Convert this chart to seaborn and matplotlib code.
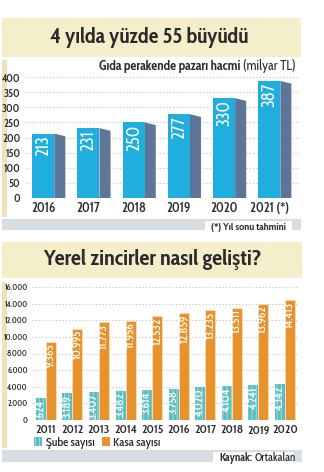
import os
import matplotlib
matplotlib.use("Agg")
import matplotlib.pyplot as plt
import matplotlib.font_manager as fm
from matplotlib.font_manager import FontProperties
from matplotlib.patches import Rectangle, Polygon, Patch
import seaborn as sns
import pandas as pd

# ---------------- data ----------------
years_top = ["2016", "2017", "2018", "2019", "2020", "2021 (*)"]
market_size = [213, 231, 250, 277, 330, 387]

years_bot = ["2011", "2012", "2013", "2014", "2015", "2016", "2017", "2018", "2019", "2020"]
sube = [2624, 3189, 3407, 3482, 3614, 3758, 4020, 4104, 4241, 4342]
kasa = [9365, 10995, 11773, 11956, 12532, 12859, 13235, 13511, 13962, 14413]

top_title = "4 yılda yüzde 55 büyüdü"
top_sub_bold = "Gıda perakende pazarı hacmi"
top_sub_reg = "(milyar TL)"
top_note = "(*) Yıl sonu tahmini"
bot_title = "Yerel zincirler nasıl gelişti?"
series_names = ["Şube sayısı", "Kasa sayısı"]
source_bold = "Kaynak:"
source_reg = "Ortakalan"

# ---------------- fonts ----------------
sns.set_theme(style="white")
plt.rcParams["font.family"] = ["DejaVu Sans"]
FILES = {os.path.basename(f.fname): f.fname for f in fm.fontManager.ttflist}

def font_file(cands):
    for c in cands:
        if c in FILES:
            return FILES[c]
    return None

f_bold = font_file(["CabinCondensed-Bold.ttf", "AsapCondensed-Bold.ttf", "DejaVuSansCondensed-Bold.ttf"])
f_semi = font_file(["CabinCondensed-SemiBold.ttf", "AsapCondensed-SemiBold.ttf", "DejaVuSansCondensed-Bold.ttf"])
f_med = font_file(["CabinCondensed-Medium.ttf", "AsapCondensed-Medium.ttf", "DejaVuSansCondensed.ttf"])
f_reg = font_file(["CabinCondensed-Regular.ttf", "AsapCondensed-Regular.ttf", "DejaVuSansCondensed.ttf"])

def FP(path, size, weight="normal"):
    if path:
        return FontProperties(fname=path, size=size)
    return FontProperties(family=["DejaVu Sans"], weight=weight, size=size * 0.8)

FB = lambda s: FP(f_bold, s, "bold")
FS = lambda s: FP(f_semi, s, "bold")
FM = lambda s: FP(f_med, s)
FR = lambda s: FP(f_reg, s)

TXT = "#2b2b2b"
W, H = 324, 472
fig = plt.figure(figsize=(W / 100, H / 100), dpi=100)
fig.patch.set_facecolor("white")

def px_axes(x0, y0, x1, y1):
    return fig.add_axes([x0 / W, 1 - y1 / H, (x1 - x0) / W, (y1 - y0) / H])

def fig_rect(x0, y0, x1, y1, color):
    fig.patches.append(Rectangle((x0 / W, 1 - y1 / H), (x1 - x0) / W, (y1 - y0) / H,
                                 transform=fig.transFigure, facecolor=color, edgecolor="none", zorder=-1))

def fig_text(x, y, s, **kw):
    return fig.text(x / W, 1 - y / H, s, **kw)

def thousands(v):
    return f"{v:,}".replace(",", ".")

# ---------------- decorations ----------------
BOX = "#f5eecb"
STRIPE = "#efe2b8"
BAND = "#d6dee4"
fig_rect(2, 18, 301, 57, BOX)
fig_rect(2, 60, 7, 217, STRIPE)
fig_rect(2, 219, 301, 230, BAND)
fig_rect(205, 221, 292, 234, "white")
fig_text(149, 37, top_title, ha="center", va="center", fontproperties=FB(15.5), color=TXT)
fig_text(248, 227.5, top_note, ha="center", va="center", fontproperties=FB(7.5), color=TXT)

fig_rect(2, 242, 302, 278, BOX)
fig_rect(2, 282, 7, 448, STRIPE)
fig_rect(2, 450, 302, 462, BAND)
fig_rect(213, 452, 293, 465, "white")
fig_text(152, 260, bot_title, ha="center", va="center", fontproperties=FB(16), color=TXT)
t_src_b = fig_text(219, 458, source_bold, ha="left", va="center", fontproperties=FB(8), color=TXT)

# ---------------- top chart ----------------
ax1 = px_axes(26, 77, 300, 198)
df_top = pd.DataFrame({"year": years_top, "value": market_size})
FRONT = "#1faedd"
SIDE = "#5d7698"
sns.barplot(data=df_top, x="year", y="value", ax=ax1, color=FRONT, width=0.49,
            saturation=1, edgecolor="none", zorder=3)
ax1.set_xlim(-0.38, 5.68)
ax1.set_ylim(0, 400)
dx, dy = 0.245, 9.0
for p, v in zip(ax1.patches, market_size):
    x1 = p.get_x() + p.get_width()
    h = p.get_height()
    ax1.add_patch(Polygon([(x1, h), (x1 + dx, h - dy), (x1 + dx, 0), (x1, 0)],
                          closed=True, facecolor=SIDE, edgecolor="none", zorder=2))
    ax1.text(p.get_x() + p.get_width() / 2, h - 7, str(v), rotation=90, ha="center", va="top",
             color="white", fontproperties=FR(12.5), zorder=4)
ax1.set_yticks(range(0, 401, 50))
ax1.yaxis.grid(True, linestyle=(0, (1, 2)), color="#b9c3cc", linewidth=0.8, zorder=0)
ax1.set_axisbelow(True)
for s in ax1.spines.values():
    s.set_visible(False)
ax1.tick_params(axis="y", length=0, labelcolor=TXT, pad=4)
ax1.tick_params(axis="x", length=0, labelcolor=TXT, pad=3)
for lab in ax1.get_yticklabels():
    lab.set_fontproperties(FS(8))
for lab in ax1.get_xticklabels():
    lab.set_fontproperties(FS(9.5))
ax1.set_xlabel("")
ax1.set_ylabel("")
ax1.set_facecolor("none")
t_sub_reg = ax1.text(0.985, 1.09, top_sub_reg, transform=ax1.transAxes, ha="right", va="center",
                     fontproperties=FR(9.5), color=TXT)

# ---------------- bottom chart ----------------
ax2 = px_axes(32, 287, 297, 420)
df_bot = pd.DataFrame({
    "year": years_bot * 2,
    "value": sube + kasa,
    "series": [series_names[0]] * len(years_bot) + [series_names[1]] * len(years_bot),
})
TEAL = "#5cbdc0"
ORANGE = "#e8922c"
plt.rcParams["hatch.linewidth"] = 0.6
sns.barplot(data=df_bot, x="year", y="value", hue="series", ax=ax2, width=0.75,
            palette=[TEAL, ORANGE], saturation=1, edgecolor="#f6e2c8", linewidth=0.5,
            legend=False, zorder=3)
ax2.set_xlim(-0.52, 9.45)
ax2.set_ylim(0, 16000)
bars = [p for p in ax2.patches if p.get_height() > 0]
vals = sube + kasa
teal_r = matplotlib.colors.to_rgba(TEAL)[0]
for p, v in zip(bars, vals):
    if abs(p.get_facecolor()[0] - teal_r) < 0.02:
        p.set_hatch("||||")
        p.set_edgecolor("#a9e0e0")
        p.set_linewidth(0.0)
    ax2.text(p.get_x() + p.get_width() / 2, p.get_height() - 180, thousands(v), rotation=90,
             ha="center", va="top", color="white", fontproperties=FM(8.5), zorder=5)
ax2.set_yticks(range(0, 16001, 2000))
ax2.set_yticklabels([thousands(v) for v in range(0, 16001, 2000)])
ax2.yaxis.grid(True, linestyle=(0, (1, 2)), color="#b9c3cc", linewidth=0.8, zorder=0)
ax2.set_axisbelow(True)
for s in ax2.spines.values():
    s.set_visible(False)
ax2.tick_params(axis="y", length=0, labelcolor=TXT, pad=3)
ax2.tick_params(axis="x", length=0, labelcolor=TXT, pad=3)
for lab in ax2.get_yticklabels():
    lab.set_fontproperties(FS(6))
for lab in ax2.get_xticklabels():
    lab.set_fontproperties(FS(8.8))
ax2.set_xlabel("")
ax2.set_ylabel("")
ax2.set_facecolor("none")

handles = [Patch(facecolor=TEAL, hatch="||||", edgecolor="#a9e0e0", linewidth=0),
           Patch(facecolor=ORANGE, edgecolor="none")]
fig.legend(handles, series_names, loc="center left", bbox_to_anchor=(34 / W, 1 - 443 / H),
           ncol=2, frameon=False, prop=FM(8.5), handlelength=0.7, handleheight=0.8,
           handletextpad=0.3, columnspacing=0.6, labelcolor=TXT, borderaxespad=0, borderpad=0)

# ---------------- place composite texts ----------------
fig.canvas.draw()
r = fig.canvas.get_renderer()
bb = t_sub_reg.get_window_extent(r)
fig.text((bb.x0 - 3) / fig.bbox.width, (bb.y0 + bb.y1) / 2 / fig.bbox.height, top_sub_bold,
         ha="right", va="center", fontproperties=FB(9.5), color=TXT)
bb2 = t_src_b.get_window_extent(r)
fig.text((bb2.x1 + 3) / fig.bbox.width, (bb2.y0 + bb2.y1) / 2 / fig.bbox.height, source_reg,
         ha="left", va="center", fontproperties=FM(8), color=TXT)

fig.savefig("out.png", dpi=100, facecolor="white")
